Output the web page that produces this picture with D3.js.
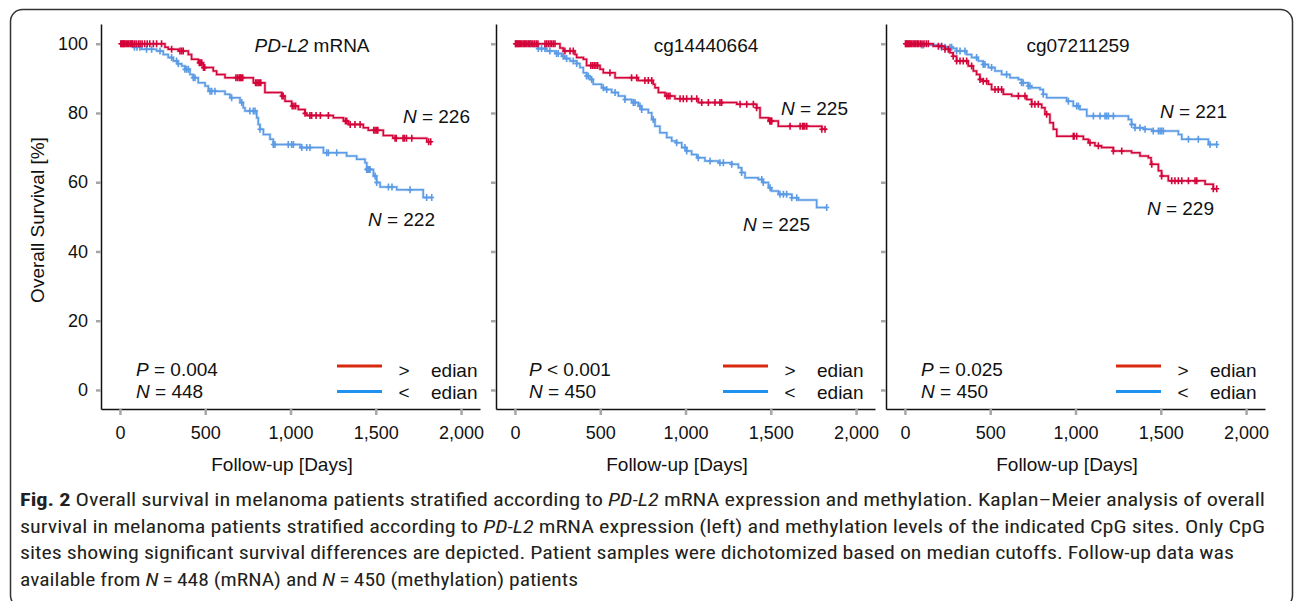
<!DOCTYPE html>
<html>
<head>
<meta charset="utf-8">
<script src="https://cdn.jsdelivr.net/npm/d3@7"></script>
<style>
body { margin: 0; background: #fff; }
svg text { font-family: "Liberation Sans", Arial, sans-serif; fill: #111; }
.axis .domain { stroke: #111; stroke-width: 1.5; }
.axis .tick line { stroke: #a6a6a6; stroke-width: 2.5; }
.caption text { font-family: "Liberation Sans Narrow", "Roboto Condensed", "DejaVu Sans Condensed", "Open Sans", sans-serif; fill: #231f20; }
</style>
</head>
<body>
<svg id="chart" width="1295" height="601"></svg>
<script>
// tick values
var xTicks = [0, 500, 1000, 1500, 2000];
var yTicks = [0, 20, 40, 60, 80, 100];

// panel titles / stats
var panelTitles = ["PD-L2", "cg14440664", "cg07211259"];
var pValues = ["= 0.004", "< 0.001", "= 0.025"];
var totalN = [448, 450, 450];
var upperN = [226, 225, 221];   // label near the upper curve
var lowerN = [222, 225, 229];   // label near the lower curve

// Kaplan-Meier steps [day, survival %] and censor days
// panel 1: PD-L2 mRNA
var mrnaHighSteps = [[0,100],[264,99.0],[283,98.4],[342,97.9],[401,96.9],[420,95.5],[459,94.5],[489,93.1],[547,92.1],[567,91.1],[616,90.2],[782,88.7],[850,85.9],[948,84.9],[968,83.4],[1007,82.0],[1046,81.0],[1085,79.9],[1095,79.3],[1251,78.6],[1310,77.7],[1339,76.7],[1427,75.7],[1456,75.0],[1544,73.5],[1600,72.7],[1799,71.7],[1828,71.7]];
var mrnaHighCensor = [5,10,15,20,25,30,38,45,52,60,68,75,85,95,108,118,130,145,160,175,196,215,244,303,352,362,371,465,472,480,490,497,680,690,700,706,712,720,795,803,810,818,826,950,957,1010,1020,1030,1085,1114,1124,1150,1175,1222,1322,1330,1350,1378,1408,1488,1496,1505,1512,1613,1620,1660,1668,1680,1711,1810,1822];
var mrnaLowSteps = [[0,100],[78,99.0],[127,98.4],[215,97.9],[254,96.9],[283,96.0],[313,95.0],[342,94.2],[362,93.6],[381,92.6],[411,91.1],[430,90.2],[459,88.7],[499,87.8],[518,86.3],[616,85.4],[645,84.4],[704,83.0],[723,81.5],[733,80.6],[802,78.6],[811,76.7],[821,75.3],[841,73.8],[880,72.4],[899,70.9],[1056,70.0],[1193,68.5],[1329,67.6],[1388,66.6],[1437,65.6],[1447,63.7],[1486,61.8],[1505,59.9],[1525,58.6],[1623,57.8],[1778,55.6],[1828,55.6]];
var mrnaLowCensor = [68,85,100,117,156,186,235,303,332,342,381,391,401,430,440,528,538,557,655,714,762,782,792,821,899,909,987,1007,1017,1066,1095,1114,1212,1222,1271,1447,1452,1457,1462,1466,1496,1505,1574,1595,1701,1798,1828];

// panel 2: cg14440664
var cg144HighSteps = [[0,100],[264,98.8],[283,97.9],[352,96.9],[362,96.0],[401,95.5],[420,93.7],[499,92.6],[518,91.6],[587,90.2],[723,89.4],[811,88.3],[821,87.3],[841,85.9],[880,84.9],[938,84.1],[1075,83.0],[1300,82.5],[1417,81.5],[1437,78.6],[1486,77.7],[1544,76.2],[1799,75.3],[1828,75.3]];
var cg144HighCensor = [3,8,14,20,26,32,40,48,55,62,70,78,86,95,105,115,125,135,176,186,196,206,215,225,235,293,323,342,445,455,465,475,485,557,684,714,762,782,802,890,899,909,968,987,1007,1036,1066,1095,1134,1173,1202,1212,1320,1359,1398,1417,1494,1498,1502,1506,1613,1672,1686,1691,1700,1711,1799,1818];
var cg144LowSteps = [[0,100],[108,99.3],[137,98.6],[186,97.9],[235,97.2],[274,96.4],[293,95.7],[323,95.0],[362,94.3],[381,93.1],[401,91.6],[420,90.7],[440,89.7],[459,88.3],[508,87.3],[528,86.8],[567,85.9],[606,84.9],[645,83.9],[684,83.0],[723,82.0],[743,81.0],[782,80.1],[802,78.1],[821,76.2],[850,74.3],[890,72.9],[919,71.9],[948,71.4],[978,70.0],[1007,69.0],[1036,68.0],[1066,67.1],[1114,66.1],[1193,65.6],[1271,65.2],[1310,64.2],[1329,62.8],[1349,61.3],[1427,60.8],[1456,59.9],[1486,58.4],[1505,57.5],[1544,56.5],[1623,55.5],[1662,54.9],[1769,52.7],[1828,52.7]];
var cg144LowCensor = [88,137,156,176,205,244,254,283,303,342,362,420,430,450,518,538,587,645,694,704,733,743,811,948,997,1007,1075,1144,1202,1222,1271,1329,1447,1456,1496,1554,1574,1593,1623,1652,1828];

// panel 3: cg07211259
var cg072HighSteps = [[0,100],[166,99.3],[235,98.4],[264,97.4],[283,96.4],[303,95.0],[371,93.6],[401,92.1],[420,91.1],[440,89.7],[459,89.2],[489,88.3],[508,86.8],[577,85.4],[626,84.9],[714,83.9],[743,82.5],[802,81.5],[821,79.6],[850,77.2],[870,75.3],[890,73.3],[1046,72.4],[1075,71.4],[1114,70.5],[1153,70.0],[1222,69.0],[1329,68.5],[1378,67.6],[1427,67.1],[1443,65.2],[1486,63.3],[1505,61.8],[1544,60.4],[1760,59.4],[1808,58.1],[1828,58.1]];
var cg072HighCensor = [3,8,14,20,26,32,40,48,56,64,72,80,90,100,112,125,137,196,215,235,254,283,303,323,342,362,391,440,459,479,528,547,567,665,704,743,762,782,831,987,992,1007,1085,1134,1222,1271,1447,1505,1564,1583,1603,1623,1662,1701,1711,1808,1828];
var cg072LowSteps = [[0,100],[88,99.6],[205,99.0],[283,98.6],[303,97.9],[362,96.9],[391,96.0],[430,95.0],[459,94.0],[489,93.1],[528,92.1],[567,91.1],[616,90.2],[665,89.7],[684,88.7],[723,87.8],[743,87.3],[792,86.8],[811,85.4],[831,84.4],[948,83.4],[987,82.0],[1026,81.0],[1066,79.1],[1310,78.1],[1329,76.7],[1349,75.7],[1398,75.3],[1447,74.8],[1603,73.8],[1623,72.4],[1779,70.9],[1828,70.9]];
var cg072LowCensor = [98,108,215,235,264,274,303,323,352,420,459,469,508,596,684,694,723,733,811,958,1007,1017,1105,1144,1173,1183,1193,1222,1329,1349,1378,1408,1456,1486,1496,1505,1515,1662,1720,1789,1828];

var captionLines = [
  [["b","Fig. 2"],["n"," Overall survival in melanoma patients stratified according to "],["i","PD-L2"],["n"," mRNA expression and methylation. Kaplan\u2013Meier analysis of overall"]],
  [["n","survival in melanoma patients stratified according to "],["i","PD-L2"],["n"," mRNA expression (left) and methylation levels of the indicated CpG sites. Only CpG"]],
  [["n","sites showing significant survival differences are depicted. Patient samples were dichotomized based on median cutoffs. Follow-up data was"]],
  [["n","available from "],["i","N"],["n","\u2009=\u2009448 (mRNA) and "],["i","N"],["n","\u2009=\u2009450 (methylation) patients"]]
];

var highColor = "#d4053a", lowColor = "#5b9ae4";
var highLegend = "#d8290f", lowLegend = "#1f91ee";

var panels = [
  {left: 101, high: mrnaHighSteps, highC: mrnaHighCensor, low: mrnaLowSteps, lowC: mrnaLowCensor, titleX: 312, nTopX: 470, nTopY: 123, nBotX: 435, nBotY: 226, legX: 337, pX: 136},
  {left: 496, high: cg144HighSteps, highC: cg144HighCensor, low: cg144LowSteps, lowC: cg144LowCensor, titleX: 706, nTopX: 848, nTopY: 115, nBotX: 810, nBotY: 231, legX: 723, pX: 529},
  {left: 886, high: cg072HighSteps, highC: cg072HighCensor, low: cg072LowSteps, lowC: cg072LowCensor, titleX: 1078, nTopX: 1227, nTopY: 118, nBotX: 1214, nBotY: 215, legX: 1116, pX: 921}
];

var svg = d3.select("#chart");

// outer frame
svg.append("rect")
  .attr("x", 10.5).attr("y", 9.5)
  .attr("width", 1282).attr("height", 598)
  .attr("rx", 12)
  .style("fill", "none").style("stroke", "#333").style("stroke-width", 1.5);

function survAt(steps, day) {
  var s = steps[0][1];
  steps.forEach(function(p){ if (p[0] <= day) s = p[1]; });
  return s;
}

panels.forEach(function(p, i) {
  var x = d3.scaleLinear().domain([-111, 2111]).range([p.left, p.left + 379]);
  var y = d3.scaleLinear().domain([-5.5, 105.7]).range([409, 24]);
  var g = svg.append("g");

  var xAxis = d3.axisBottom(x).tickValues(xTicks).tickSize(6).tickSizeOuter(0)
    .tickPadding(11).tickFormat(d3.format(","));
  var yAxis = d3.axisLeft(y).tickValues(yTicks).tickSize(5).tickSizeOuter(0).tickPadding(8);
  if (i > 0) yAxis.tickFormat("");

  g.append("g").attr("class", "axis").attr("transform", "translate(0,409)").call(xAxis)
    .selectAll("text").attr("font-size", 18).attr("font-family", "Liberation Sans, Arial, sans-serif").style("fill", "#111");
  g.append("g").attr("class", "axis").attr("transform", "translate(" + p.left + ",0)").call(yAxis)
    .selectAll("text").attr("font-size", 18).attr("font-family", "Liberation Sans, Arial, sans-serif").style("fill", "#111");

  var line = d3.line().curve(d3.curveStepAfter)
    .x(function(d){ return x(d[0]); })
    .y(function(d){ return y(d[1]); });

  [[p.low, p.lowC, lowColor], [p.high, p.highC, highColor]].forEach(function(s) {
    g.append("path").attr("d", line(s[0]))
      .style("fill", "none").style("stroke", s[2]).style("stroke-width", 3).style("opacity", 0.3);
    g.append("path").attr("d", line(s[0]))
      .style("fill", "none").style("stroke", s[2]).style("stroke-width", 1.5);
    g.selectAll(null).data(s[1]).enter().append("path")
      .attr("d", function(d){
        var cx = x(d), cy = y(survAt(s[0], d));
        return "M" + (cx - 2.5) + "," + cy + "h5M" + cx + "," + (cy - 3.5) + "v7";
      })
      .style("fill", "none").style("stroke", s[2]).style("stroke-width", 1.6);
  });

  // title
  var t = g.append("text").attr("x", p.titleX).attr("y", 52).attr("text-anchor", "middle").attr("font-size", 19);
  if (i === 0) {
    t.append("tspan").attr("font-style", "italic").text(panelTitles[i]);
    t.append("tspan").text(" mRNA");
  } else {
    t.text(panelTitles[i]);
  }

  // group sizes
  [[p.nTopX, p.nTopY, upperN[i]], [p.nBotX, p.nBotY, lowerN[i]]].forEach(function(n) {
    var nt = g.append("text").attr("x", n[0]).attr("y", n[1]).attr("text-anchor", "end").attr("font-size", 19);
    nt.append("tspan").attr("font-style", "italic").text("N");
    nt.append("tspan").text(" = " + n[2]);
  });

  // p value and total N
  var pt = g.append("text").attr("x", p.pX).attr("y", 376).attr("font-size", 19);
  pt.append("tspan").attr("font-style", "italic").text("P");
  pt.append("tspan").text(" " + pValues[i]);
  var tn = g.append("text").attr("x", p.pX).attr("y", 398).attr("font-size", 19);
  tn.append("tspan").attr("font-style", "italic").text("N");
  tn.append("tspan").text(" = " + totalN[i]);

  // legend
  [[366, 377, highLegend, ">"], [391.5, 399, lowLegend, "<"]].forEach(function(l) {
    g.append("line").attr("x1", p.legX).attr("x2", p.legX + 45).attr("y1", l[0]).attr("y2", l[0])
      .style("stroke", l[2]).style("stroke-width", 3);
    g.append("text").attr("x", p.legX + 67).attr("y", l[1]).attr("text-anchor", "middle")
      .attr("font-size", 19).text(l[3]);
    g.append("text").attr("x", p.legX + 94).attr("y", l[1]).attr("font-size", 19).text("edian");
  });

  // x axis title
  g.append("text").attr("x", x(950)).attr("y", 471).attr("text-anchor", "middle")
    .attr("font-size", 19).text("Follow-up [Days]");
});

// y axis title
svg.append("text").attr("transform", "translate(44,220) rotate(-90)")
  .attr("text-anchor", "middle").attr("font-size", 19).text("Overall Survival [%]");

// caption
var cap = svg.append("g").attr("class", "caption");
var capWidths = [1245, 1245, 1214, 558];
captionLines.forEach(function(parts, k) {
  var ct = cap.append("text").attr("x", 20).attr("y", 506 + k * 26.5).attr("font-size", 18)
    .attr("textLength", capWidths[k]).attr("lengthAdjust", "spacingAndGlyphs");
  parts.forEach(function(pp) {
    var ts = ct.append("tspan").text(pp[1]);
    if (pp[0] === "b") ts.attr("font-weight", "bold");
    if (pp[0] === "i") ts.attr("font-style", "italic");
  });
});
</script>
</body>
</html>
